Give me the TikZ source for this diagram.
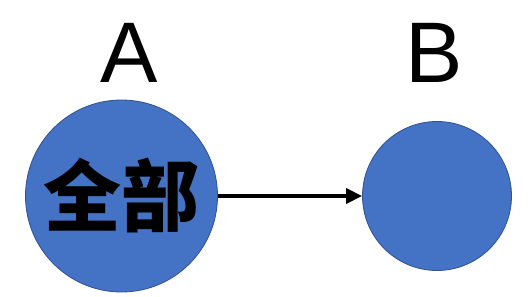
\documentclass[tikz,border=0pt]{standalone}
\usepackage{fontspec}
\setmainfont{Liberation Sans}
\newfontfamily\cjk{Noto Sans CJK SC}
\usepackage{tikz}
\usetikzlibrary{arrows.meta}
\definecolor{nodefill}{HTML}{4472C4}
\definecolor{nodeline}{HTML}{2F528F}
\begin{document}
\begin{tikzpicture}[x=1pt, y=1pt, >={Triangle[length=16pt, width=15pt]},
	circ/.style={circle, fill=nodefill, draw=nodeline, line width=0.8pt, inner sep=0pt},
	lbl/.style={anchor=base, font=\fontsize{86}{86}\selectfont}]
	\useasboundingbox (0,0) rectangle (528,297);
	\node[circ, minimum size=192pt, font=\cjk\bfseries\fontsize{78}{78}\selectfont] (A) at (121.5,101) {全部};
	\node[circ, minimum size=149pt] (B) at (437,101) {};
	\node[lbl] (labA) at (129.5,214) {A};
	\node[lbl] (labB) at (434.5,214) {B};
	\draw[->, line width=3.5pt] (A) -- (B);
\end{tikzpicture}
\end{document}
